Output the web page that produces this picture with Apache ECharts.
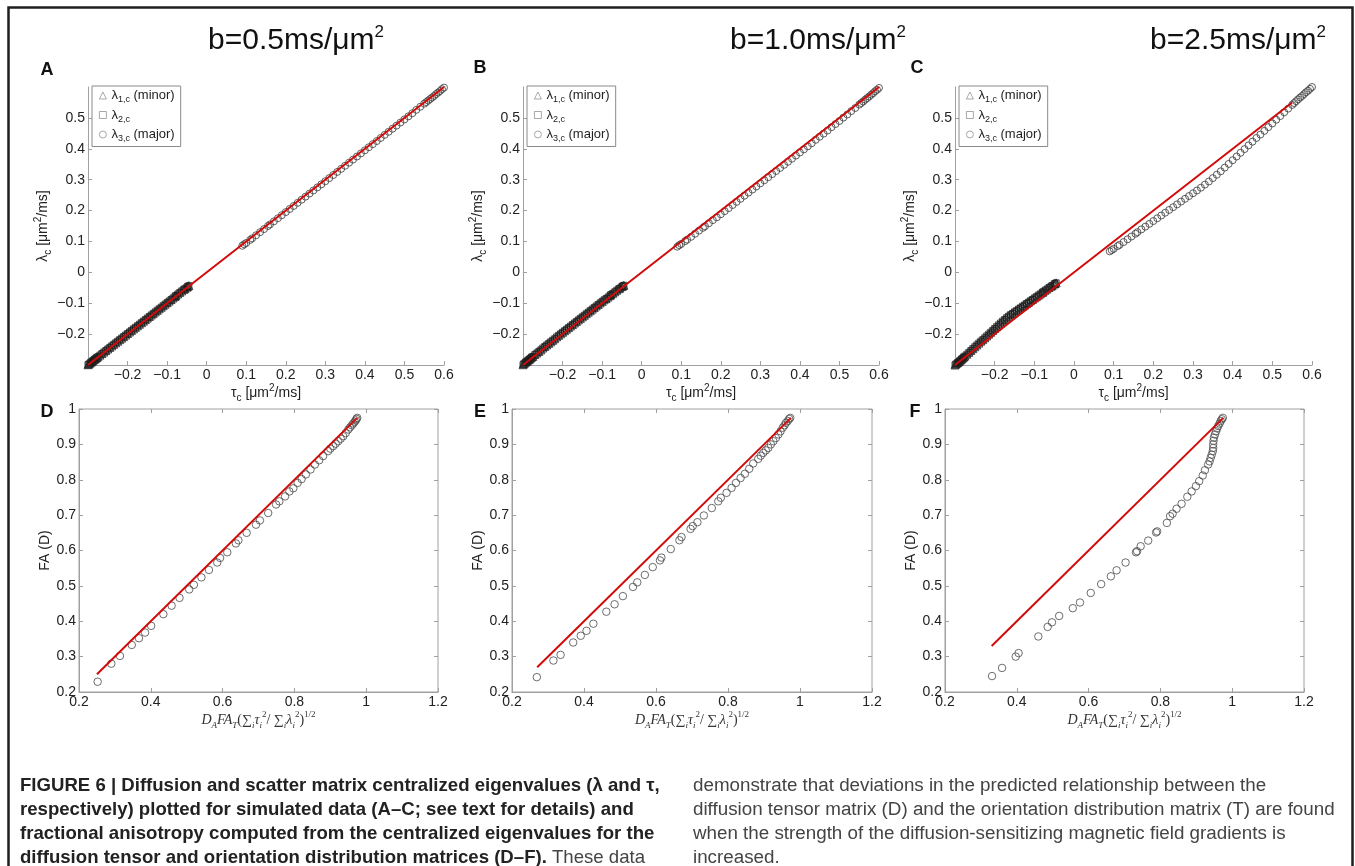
<!DOCTYPE html>
<html>
<head>
<meta charset="UTF-8" />
<script src="https://cdn.jsdelivr.net/npm/echarts@6/dist/echarts.min.js"></script>
<title>Figure 6</title>
<style>
html, body { margin: 0; padding: 0; background: #fff; }
#main { width: 1355px; height: 866px; }
</style>
</head>
<body>
<div id="main"></div>
<script>
// scatter-matrix centralized eigenvalues tau (same for A-C)
var tauMajor = [0.090,0.095,0.100,0.110,0.115,0.125,0.135,0.145,0.155,0.160,
  0.170,0.180,0.190,0.200,0.210,0.220,0.230,0.240,0.250,0.260,0.270,0.280,0.290,0.300,0.310,0.320,0.330,0.340,0.350,0.360,
  0.370,0.380,0.390,0.400,0.410,0.420,0.430,0.440,0.450,0.460,0.470,0.480,0.490,0.500,0.510,0.520,0.530,0.540,0.550,
  0.555,0.560,0.565,0.570,0.575,0.580,0.585,0.590,0.595,0.600];
var tauMinor = [-0.045,-0.048,-0.050,-0.055,-0.058,-0.063,-0.068,-0.073,-0.078,-0.080,
  -0.085,-0.090,-0.095,-0.100,-0.105,-0.110,-0.115,-0.120,-0.125,-0.130,-0.135,-0.140,-0.145,-0.150,-0.155,-0.160,-0.165,-0.170,-0.175,-0.180,
  -0.185,-0.190,-0.195,-0.200,-0.205,-0.210,-0.215,-0.220,-0.225,-0.230,-0.235,-0.240,-0.245,-0.250,-0.255,-0.260,-0.265,-0.270,-0.275,
  -0.278,-0.280,-0.283,-0.285,-0.288,-0.290,-0.293,-0.295,-0.298,-0.300];

// diffusion-tensor centralized eigenvalues lambda, per b-value
var lamMajorA = [0.086,0.091,0.095,0.105,0.110,0.120,0.130,0.140,0.150,0.155,
  0.165,0.175,0.185,0.195,0.205,0.215,0.225,0.235,0.245,0.255,0.265,0.275,0.285,0.295,0.305,0.315,0.325,0.335,0.345,0.355,
  0.365,0.375,0.385,0.395,0.405,0.415,0.425,0.435,0.445,0.455,0.465,0.475,0.485,0.495,0.505,0.515,0.526,0.536,0.546,
  0.551,0.556,0.561,0.566,0.571,0.577,0.582,0.587,0.593,0.598];
var lamMinorA = [-0.043,-0.046,-0.048,-0.053,-0.055,-0.060,-0.065,-0.070,-0.075,-0.078,
  -0.083,-0.088,-0.093,-0.098,-0.103,-0.108,-0.113,-0.118,-0.123,-0.128,-0.133,-0.138,-0.143,-0.148,-0.153,-0.158,-0.163,-0.168,-0.173,-0.178,
  -0.183,-0.188,-0.193,-0.198,-0.203,-0.208,-0.213,-0.218,-0.223,-0.228,-0.233,-0.238,-0.243,-0.248,-0.253,-0.258,-0.263,-0.268,-0.273,
  -0.276,-0.278,-0.281,-0.283,-0.286,-0.289,-0.291,-0.294,-0.297,-0.299];
var lamMajorB = [0.083,0.088,0.092,0.101,0.106,0.115,0.125,0.135,0.144,0.149,
  0.159,0.169,0.178,0.188,0.198,0.208,0.218,0.228,0.238,0.248,0.258,0.268,0.278,0.288,0.298,0.308,0.318,0.328,0.338,0.348,
  0.358,0.368,0.378,0.388,0.398,0.408,0.418,0.429,0.439,0.449,0.459,0.470,0.480,0.490,0.501,0.511,0.522,0.532,0.543,
  0.548,0.553,0.559,0.564,0.569,0.575,0.580,0.586,0.591,0.597];
var lamMinorB = [-0.042,-0.044,-0.046,-0.051,-0.053,-0.058,-0.063,-0.068,-0.072,-0.075,
  -0.080,-0.085,-0.089,-0.094,-0.099,-0.104,-0.109,-0.114,-0.119,-0.124,-0.129,-0.134,-0.139,-0.144,-0.149,-0.154,-0.159,-0.164,-0.169,-0.174,
  -0.179,-0.184,-0.189,-0.194,-0.199,-0.204,-0.209,-0.215,-0.220,-0.225,-0.230,-0.235,-0.240,-0.245,-0.251,-0.256,-0.261,-0.266,-0.272,
  -0.274,-0.277,-0.280,-0.282,-0.285,-0.288,-0.290,-0.293,-0.296,-0.299];
var lamMajorC = [0.068,0.072,0.076,0.085,0.089,0.098,0.107,0.116,0.125,0.130,
  0.139,0.148,0.157,0.166,0.175,0.184,0.193,0.202,0.211,0.220,0.229,0.238,0.247,0.256,0.265,0.274,0.284,0.294,0.305,0.316,
  0.327,0.339,0.351,0.363,0.375,0.387,0.399,0.411,0.423,0.435,0.446,0.458,0.470,0.482,0.494,0.506,0.518,0.530,0.542,
  0.548,0.554,0.560,0.566,0.571,0.577,0.583,0.588,0.594,0.600];
var lamMinorC = [-0.034,-0.036,-0.038,-0.043,-0.045,-0.049,-0.054,-0.058,-0.063,-0.065,
  -0.070,-0.074,-0.079,-0.083,-0.088,-0.092,-0.097,-0.101,-0.106,-0.110,-0.115,-0.119,-0.124,-0.128,-0.133,-0.137,-0.142,-0.147,-0.153,-0.158,
  -0.164,-0.170,-0.176,-0.182,-0.188,-0.194,-0.200,-0.206,-0.212,-0.218,-0.223,-0.229,-0.235,-0.241,-0.247,-0.253,-0.259,-0.265,-0.271,
  -0.274,-0.277,-0.280,-0.283,-0.286,-0.289,-0.292,-0.294,-0.297,-0.300];

// lambda = tau reference lines
var redA = [[-0.3, -0.3], [0.6, 0.6]];
var redB = [[-0.3, -0.3], [0.6, 0.6]];
var redC = [[-0.3, -0.3], [0.55, 0.55]];

// FA: predicted (x) vs measured FA(D) (y)
var faxD = [0.252,0.290,0.314,0.347,0.367,0.384,0.401,0.435,0.458,0.480,0.507,0.520,0.541,0.562,0.585,0.593,0.613,0.637,0.644,0.667,
  0.693,0.704,0.727,0.749,0.758,0.774,0.786,0.797,0.809,0.820,0.832,0.845,0.857,0.869,0.880,0.894,0.900,0.908,0.915,0.922,
  0.929,0.936,0.943,0.950,0.955,0.960,0.964,0.968,0.971,0.973,0.975];
var fayD = [0.229,0.280,0.302,0.333,0.352,0.368,0.387,0.420,0.444,0.466,0.490,0.503,0.524,0.545,0.566,0.579,0.595,0.620,0.629,0.650,
  0.673,0.685,0.706,0.730,0.739,0.753,0.767,0.776,0.791,0.802,0.815,0.829,0.843,0.855,0.867,0.881,0.888,0.895,0.902,0.909,
  0.916,0.923,0.932,0.942,0.948,0.954,0.959,0.964,0.968,0.972,0.975];
var faxE = [0.269,0.315,0.335,0.370,0.391,0.407,0.426,0.462,0.485,0.508,0.536,0.548,0.569,0.591,0.611,0.615,0.641,0.665,0.671,0.696,
  0.702,0.715,0.733,0.755,0.773,0.780,0.796,0.810,0.822,0.835,0.847,0.859,0.870,0.884,0.891,0.898,0.905,0.912,0.919,0.926,
  0.933,0.940,0.946,0.952,0.957,0.961,0.966,0.970,0.973];
var fayE = [0.242,0.289,0.305,0.340,0.359,0.373,0.393,0.427,0.448,0.471,0.497,0.510,0.531,0.553,0.572,0.580,0.604,0.629,0.638,0.661,
  0.669,0.680,0.699,0.720,0.739,0.749,0.763,0.777,0.791,0.805,0.817,0.831,0.846,0.859,0.868,0.876,0.883,0.890,0.900,0.909,
  0.918,0.928,0.937,0.947,0.954,0.961,0.966,0.972,0.975];
var faxF = [0.331,0.359,0.397,0.405,0.460,0.486,0.498,0.518,0.556,0.576,0.606,0.635,0.662,0.678,0.703,0.732,0.735,0.745,0.766,0.788,
  0.791,0.818,0.827,0.834,0.845,0.859,0.875,0.887,0.899,0.908,0.918,0.924,0.933,0.937,0.940,0.943,0.946,0.947,0.947,0.948,
  0.949,0.952,0.955,0.958,0.961,0.965,0.968,0.971,0.974];
var fayF = [0.245,0.268,0.300,0.310,0.357,0.384,0.397,0.415,0.437,0.453,0.480,0.505,0.527,0.544,0.566,0.595,0.598,0.612,0.628,0.651,
  0.654,0.678,0.697,0.704,0.718,0.732,0.752,0.767,0.782,0.796,0.812,0.827,0.843,0.852,0.862,0.871,0.881,0.890,0.900,0.910,
  0.919,0.928,0.937,0.945,0.952,0.959,0.966,0.971,0.975];
var redD = [[0.25, 0.25], [0.975, 0.975]];
var redE = [[0.27, 0.27], [0.975, 0.975]];
var redF = [[0.33, 0.33], [0.975, 0.975]];

var bValues = ['0.5', '1.0', '2.5'];
var panelLetters = ['A', 'B', 'C', 'D', 'E', 'F'];
var topRange = [-0.3, 0.6];
var faXRange = [0.2, 1.2];
var faYRange = [0.2, 1];

var FONT = '"Liberation Sans", Arial, sans-serif';
var SERIF = '"Liberation Serif", "DejaVu Serif", serif';

function zip(xs, ys) {
  var out = [];
  for (var i = 0; i < xs.length; i++) out.push([xs[i], ys[i]]);
  return out;
}
function fmt(v) {
  return String(Math.round(v * 10) / 10).replace('-', '\u2212');
}

var topLayout = [
  { left: 88, top: 87, width: 356, height: 278 },
  { left: 523, top: 87, width: 356, height: 278 },
  { left: 955, top: 87, width: 357, height: 278 }
];
var botLayout = [
  { left: 79, top: 409, width: 359, height: 283 },
  { left: 512, top: 409, width: 360, height: 283 },
  { left: 945, top: 409, width: 359, height: 283 }
];

var nameRich = {
  a: { fontFamily: FONT, fontSize: 14, lineHeight: 20, color: '#222' },
  sub: { fontFamily: FONT, fontSize: 10, lineHeight: 11, verticalAlign: 'bottom', color: '#222' },
  sup: { fontFamily: FONT, fontSize: 10, lineHeight: 11, verticalAlign: 'top', color: '#222' }
};
var texRich = {
  i: { fontFamily: SERIF, fontStyle: 'italic', fontSize: 14, lineHeight: 20, color: '#333' },
  r: { fontFamily: SERIF, fontSize: 14, lineHeight: 20, color: '#333' },
  s: { fontFamily: SERIF, fontStyle: 'italic', fontSize: 9, lineHeight: 10, verticalAlign: 'bottom', color: '#333' },
  p: { fontFamily: SERIF, fontSize: 9, lineHeight: 10, verticalAlign: 'top', color: '#333' }
};

var axisGray = '#a0a0a0';
var labelStyle = { color: '#222', fontSize: 14, fontFamily: FONT, margin: 3, formatter: fmt };

var grids = [], xAxes = [], yAxes = [], series = [], legends = [];
var lamMajor = [lamMajorA, lamMajorB, lamMajorC];
var lamMinor = [lamMinorA, lamMinorB, lamMinorC];
var redTop = [redA, redB, redC];

var minorStyle = { color: 'rgba(0,0,0,0)', borderColor: '#1e1e1e', borderWidth: 1 };
var majorStyle = { color: 'rgba(0,0,0,0)', borderColor: '#3a3a3a', borderWidth: 1 };
var legendStyle = { color: 'rgba(0,0,0,0)', borderColor: '#777', borderWidth: 0.8 };
var legendText = {
  l1: '{g|λ}{s|1,c}{g| (minor)}',
  l2: '{g|λ}{s|2,c}',
  l3: '{g|λ}{s|3,c}{g| (major)}'
};

topLayout.forEach(function (g, i) {
  grids.push({ left: g.left, top: g.top, width: g.width, height: g.height, outerBoundsMode: 'none' });
  xAxes.push({
    type: 'value', gridIndex: i, min: topRange[0], max: topRange[1], interval: 0.1,
    axisLine: { show: true, onZero: false, lineStyle: { color: axisGray } },
    axisTick: { show: true, inside: true, length: 4, lineStyle: { color: axisGray } },
    splitLine: { show: false },
    axisLabel: Object.assign({ showMinLabel: false }, labelStyle),
    name: '{a|τ}{sub|c}{a| [μm}{sup|2}{a|/ms]}', nameLocation: 'middle', nameGap: 5,
    nameTextStyle: { rich: nameRich }
  });
  yAxes.push({
    type: 'value', gridIndex: i, min: topRange[0], max: topRange[1], interval: 0.1,
    axisLine: { show: true, onZero: false, lineStyle: { color: axisGray } },
    axisTick: { show: true, inside: true, length: 4, lineStyle: { color: axisGray } },
    splitLine: { show: false },
    axisLabel: Object.assign({ showMinLabel: false, showMaxLabel: false }, labelStyle),
    name: '{a|λ}{sub|c}{a| [μm}{sup|2}{a|/ms]}', nameLocation: 'middle', nameGap: 25, nameRotate: 90,
    nameTextStyle: { rich: nameRich }
  });
  series.push({
    name: 'l1', type: 'scatter', xAxisIndex: i, yAxisIndex: i, symbol: 'triangle', symbolSize: 8,
    data: zip(tauMinor, lamMinor[i]), itemStyle: minorStyle, silent: true
  });
  series.push({
    name: 'l2', type: 'scatter', xAxisIndex: i, yAxisIndex: i, symbol: 'rect', symbolSize: 6,
    data: zip(tauMinor, lamMinor[i]), itemStyle: minorStyle, silent: true
  });
  series.push({
    name: 'l3', type: 'scatter', xAxisIndex: i, yAxisIndex: i, symbol: 'circle', symbolSize: 7,
    data: zip(tauMajor, lamMajor[i]), itemStyle: majorStyle, silent: true
  });
  series.push({
    type: 'line', xAxisIndex: i, yAxisIndex: i, data: redTop[i], symbol: 'none', z: 5, silent: true,
    lineStyle: { color: '#d20a0a', width: 2 }
  });
  legends.push({
    orient: 'vertical', left: g.left + 4, top: 86, data: ['l1', 'l2', 'l3'],
    borderColor: '#8a8a8a', borderWidth: 1, padding: [3, 6, 3, 7], itemGap: 4,
    itemWidth: 7, itemHeight: 7, selectedMode: false, itemStyle: legendStyle,
    formatter: function (n) { return legendText[n]; },
    textStyle: {
      rich: {
        g: { fontFamily: FONT, fontSize: 13, lineHeight: 18, color: '#222' },
        s: { fontFamily: FONT, fontSize: 9, lineHeight: 9, verticalAlign: 'bottom', color: '#222' }
      }
    }
  });
});

var faX = [faxD, faxE, faxF], faY = [fayD, fayE, fayF], redBot = [redD, redE, redF];
botLayout.forEach(function (g, k) {
  var gi = 3 + k;
  grids.push({
    left: g.left, top: g.top, width: g.width, height: g.height, outerBoundsMode: 'none',
    show: true, borderColor: axisGray, borderWidth: 1, backgroundColor: 'transparent'
  });
  var bx = xAxes.length;
  xAxes.push({
    type: 'value', gridIndex: gi, min: faXRange[0], max: faXRange[1], interval: 0.2,
    axisLine: { show: true, onZero: false, lineStyle: { color: axisGray } },
    axisTick: { show: true, inside: true, length: 4, lineStyle: { color: axisGray } },
    splitLine: { show: false }, axisLabel: labelStyle,
    name: '{i|D}{s|A}{i|FA}{s|T}{r|(∑}{s|i}{i|τ}{s|i}{p|2}{r|/ ∑}{s|i}{i|λ}{s|i}{p|2}{r|)}{p|1/2}',
    nameLocation: 'middle', nameGap: 16, nameTextStyle: { rich: texRich }
  });
  xAxes.push({
    type: 'value', gridIndex: gi, position: 'top', min: faXRange[0], max: faXRange[1], interval: 0.2,
    axisLine: { show: false }, axisLabel: { show: false }, splitLine: { show: false },
    axisTick: { show: true, inside: true, length: 4, lineStyle: { color: axisGray } }
  });
  var by = yAxes.length;
  yAxes.push({
    type: 'value', gridIndex: gi, min: faYRange[0], max: faYRange[1], interval: 0.1,
    axisLine: { show: true, onZero: false, lineStyle: { color: axisGray } },
    axisTick: { show: true, inside: true, length: 4, lineStyle: { color: axisGray } },
    splitLine: { show: false }, axisLabel: labelStyle,
    name: 'FA (D)', nameLocation: 'middle', nameGap: 17, nameRotate: 90,
    nameTextStyle: { fontFamily: FONT, fontSize: 14, color: '#222' }
  });
  yAxes.push({
    type: 'value', gridIndex: gi, position: 'right', min: faYRange[0], max: faYRange[1], interval: 0.1,
    axisLine: { show: false }, axisLabel: { show: false }, splitLine: { show: false },
    axisTick: { show: true, inside: true, length: 4, lineStyle: { color: axisGray } }
  });
  series.push({
    type: 'scatter', xAxisIndex: bx, yAxisIndex: by, symbol: 'circle', symbolSize: 7.5,
    data: zip(faX[k], faY[k]), silent: true,
    itemStyle: { color: 'rgba(0,0,0,0)', borderColor: '#4a4a4a', borderWidth: 1 }
  });
  series.push({
    type: 'line', xAxisIndex: bx, yAxisIndex: by, data: redBot[k], symbol: 'none', z: 5, silent: true,
    lineStyle: { color: '#d20a0a', width: 2 }
  });
});

var graphics = [
  { type: 'rect', silent: true, shape: { x: 8.5, y: 7.5, width: 1344, height: 900 },
    style: { fill: 'none', stroke: '#1e1e1e', lineWidth: 2.5 } }
];
var titleLeft = [208, 730, 1150];
bValues.forEach(function (b, i) {
  graphics.push({
    type: 'text', x: titleLeft[i], y: 24, silent: true,
    style: {
      text: '{t|b=' + b + 'ms/μm}{s|2}',
      rich: {
        t: { fontFamily: FONT, fontSize: 30, lineHeight: 34, fill: '#111', color: '#111' },
        s: { fontFamily: FONT, fontSize: 17, lineHeight: 18, verticalAlign: 'top', fill: '#111', color: '#111' }
      }
    }
  });
});
var letterPos = [[47, 70], [480, 68], [917, 68], [47, 412], [480, 412], [915, 412]];
panelLetters.forEach(function (L, i) {
  graphics.push({
    type: 'text', x: letterPos[i][0], y: letterPos[i][1], silent: true,
    style: { text: L, font: 'bold 18px ' + FONT, fill: '#111', align: 'center', verticalAlign: 'middle' }
  });
});

var captionBold = [
  'FIGURE 6 | Diffusion and scatter matrix centralized eigenvalues (λ and τ,',
  'respectively) plotted for simulated data (A–C; see text for details) and',
  'fractional anisotropy computed from the centralized eigenvalues for the'
];
var captionRight = [
  'demonstrate that deviations in the predicted relationship between the',
  'diffusion tensor matrix (D) and the orientation distribution matrix (T) are found',
  'when the strength of the diffusion-sensitizing magnetic field gradients is',
  'increased.'
];
var capY = [786, 810, 834, 858];
var capSize = 18.6;
captionBold.forEach(function (t, i) {
  graphics.push({
    type: 'text', x: 20, y: capY[i], silent: true,
    style: { text: t, font: 'bold ' + capSize + 'px ' + FONT, fill: '#222', verticalAlign: 'middle' }
  });
});
graphics.push({
  type: 'text', x: 20, y: capY[3], silent: true,
  style: {
    text: '{b|diffusion tensor and orientation distribution matrices (D–F).}{n| These data}',
    verticalAlign: 'middle',
    rich: {
      b: { fontFamily: FONT, fontWeight: 'bold', fontSize: capSize, fill: '#222', color: '#222' },
      n: { fontFamily: FONT, fontSize: capSize, fill: '#444', color: '#444' }
    }
  }
});
captionRight.forEach(function (t, i) {
  graphics.push({
    type: 'text', x: 693, y: capY[i], silent: true,
    style: { text: t, font: (capSize + 0.2) + 'px ' + FONT, fill: '#444', verticalAlign: 'middle' }
  });
});

var chart = echarts.init(document.getElementById('main'));
chart.setOption({
  animation: false,
  backgroundColor: '#fff',
  grid: grids,
  xAxis: xAxes,
  yAxis: yAxes,
  legend: legends,
  series: series,
  graphic: graphics
});
</script>
</body>
</html>
